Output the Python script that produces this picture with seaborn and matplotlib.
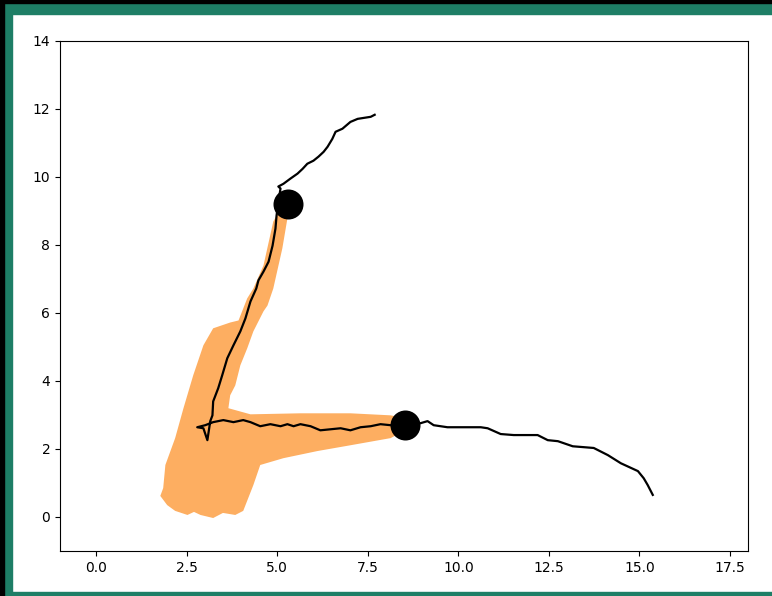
import matplotlib
matplotlib.use("Agg")
import matplotlib.pyplot as plt
from matplotlib.patches import Rectangle
import seaborn as sns
import pandas as pd

# Black trajectory
path_x = [7.69, 7.58, 7.22, 7.02, 6.80, 6.61, 6.52, 6.39, 6.28, 6.14, 6.00, 5.83, 5.70, 5.56,
          5.36, 5.17, 5.03, 5.09, 5.03, 4.98, 4.95, 4.87, 4.76, 4.62, 4.48, 4.42, 4.26, 4.12,
          3.98, 3.79, 3.62, 3.48, 3.37, 3.23, 3.21, 3.15, 3.07, 2.96, 2.79, 3.01, 3.23, 3.51,
          3.79, 4.06, 4.26, 4.53, 4.81, 5.09, 5.28, 5.45, 5.64, 5.92, 6.19, 6.47, 6.75, 7.02,
          7.30, 7.58, 7.85, 8.13, 8.32, 8.96, 9.15, 9.32,
          9.70, 10.26, 10.62, 10.81, 11.17, 11.53, 12.19, 12.47, 12.75, 13.16, 13.74, 14.13,
          14.49, 14.96, 15.12, 15.23, 15.37]
path_y = [11.83, 11.77, 11.71, 11.62, 11.42, 11.33, 11.12, 10.89, 10.74, 10.60, 10.48, 10.39,
          10.24, 10.10, 9.95, 9.80, 9.72, 9.66, 9.27, 8.86, 8.48, 7.98, 7.51, 7.22, 6.96, 6.72,
          6.34, 5.84, 5.46, 5.05, 4.67, 4.17, 3.79, 3.40, 2.99, 2.82, 2.26, 2.61, 2.64, 2.70,
          2.79, 2.85, 2.79, 2.85, 2.79, 2.67, 2.73, 2.67, 2.73, 2.67, 2.73, 2.67, 2.55, 2.58,
          2.61, 2.55, 2.64, 2.67, 2.73, 2.70, 2.70, 2.76, 2.82, 2.70,
          2.64, 2.64, 2.64, 2.61, 2.44, 2.41, 2.41, 2.26, 2.23, 2.08, 2.03, 1.82,
          1.58, 1.35, 1.14, 0.94, 0.65]

# Orange region outline
band_x = [5.36, 5.28, 5.14, 4.89, 4.73, 4.62, 4.34, 4.17, 3.98, 3.84, 3.70, 3.65, 4.26, 5.64,
          7.02, 8.13, 8.54, 8.54, 8.13, 7.02, 6.11, 5.17, 4.53, 4.34, 4.06, 3.84, 3.50, 3.23,
          2.88, 2.70, 2.52, 2.18, 1.96, 1.77, 1.85, 1.91, 2.18, 2.41, 2.68, 2.96, 3.23, 3.70,
          3.93, 4.17, 4.34, 4.62, 4.89, 5.09]
band_y = [9.01, 8.78, 7.90, 6.72, 6.22, 6.05, 5.46, 4.96, 4.46, 3.87, 3.58, 3.20, 3.02, 3.05,
          3.05, 2.99, 2.91, 2.55, 2.32, 2.11, 1.94, 1.73, 1.53, 0.94, 0.18, 0.06, 0.12, -0.03,
          0.06, 0.15, 0.06, 0.18, 0.35, 0.62, 0.85, 1.53, 2.32, 3.20, 4.17, 5.05, 5.55, 5.72,
          5.78, 6.43, 6.72, 7.40, 8.69, 9.07]

# Joint markers
dot_x = [5.31, 8.52]
dot_y = [9.22, 2.70]

x_ticks = [0.0, 2.5, 5.0, 7.5, 10.0, 12.5, 15.0, 17.5]
y_ticks = [0, 2, 4, 6, 8, 10, 12, 14]

W, H = 772, 596
TEAL = "#1e7e66"
fig = plt.figure(figsize=(W / 100, H / 100), dpi=100, facecolor="white")


def strip(x0, y0, w, h, color):
    # pixel box measured from the top-left corner
    fig.patches.append(Rectangle((x0 / W, 1 - (y0 + h) / H), w / W, h / H,
                                 transform=fig.transFigure, color=color, zorder=-5))


strip(0, 0, W, 14, TEAL)
strip(0, 0, 12, H, TEAL)
strip(0, 592, W, 4, TEAL)
strip(0, 0, 4, H, "black")
strip(0, 0, W, 3, "black")

ax = fig.add_axes([60 / W, 1 - 551 / H, (748 - 60) / W, (551 - 41) / H])
ax.set_zorder(2)

ax.fill(band_x, band_y, color="#fdae61", lw=0, zorder=1)

df = pd.DataFrame({"x": path_x, "y": path_y})
sns.lineplot(data=df, x="x", y="y", sort=False, estimator=None, color="black",
             lw=1.6, ax=ax, zorder=2)
sns.scatterplot(x=dot_x, y=dot_y, s=400, color="black", edgecolor="black", ax=ax, zorder=3)

ax.set_xlim(-1, 18)
ax.set_ylim(-1, 14)
ax.set_xticks(x_ticks)
ax.set_xticklabels([f"{v:.1f}" for v in x_ticks])
ax.set_yticks(y_ticks)
ax.set_xlabel("")
ax.set_ylabel("")

fig.savefig("out.png", dpi=100, facecolor="white")
